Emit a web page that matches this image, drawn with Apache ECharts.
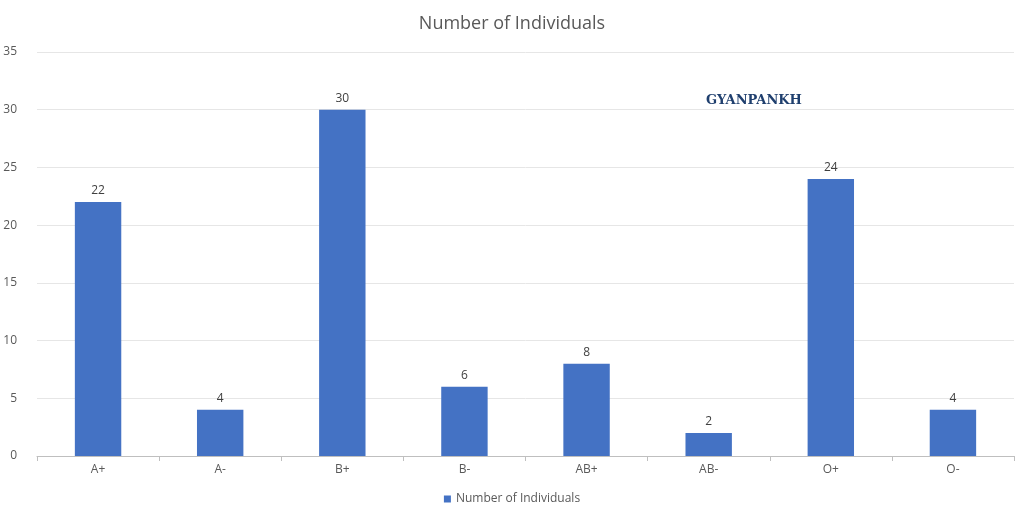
<!DOCTYPE html>
<html><head><meta charset="utf-8">
<script src="https://cdn.jsdelivr.net/npm/echarts@6/dist/echarts.min.js"></script>
<style>html,body{margin:0;padding:0;background:#fff}#c{width:1024px;height:520px}</style>
</head><body><div id="c"></div>
<script>
const categories = ['A+','A-','B+','B-','AB+','AB-','O+','O-'];
const values = [22,4,30,6,8,2,24,4];
const seriesName = 'Number of Individuals';
const chart = echarts.init(document.getElementById('c'));
chart.setOption({
  animation:false,
  title:{text:seriesName,left:'center',top:10,textStyle:{fontFamily:'Open Sans',fontSize:18,fontWeight:'normal',color:'#595959'}},
  grid:{left:37,right:10,top:52,bottom:64},
  legend:{bottom:10,itemWidth:7,itemHeight:7,icon:'rect',textStyle:{fontFamily:'Open Sans',fontSize:12,color:'#595959'}},
  xAxis:{type:'category',data:categories,axisTick:{show:true,alignWithLabel:false,length:5,lineStyle:{color:'#bfbfbf'}},
    axisLine:{lineStyle:{color:'#bfbfbf'}},axisLabel:{color:'#595959',fontFamily:'Open Sans',fontSize:12}},
  yAxis:{type:'value',min:0,max:35,interval:5,axisLine:{show:false},axisTick:{show:false},
    splitLine:{lineStyle:{color:'#e6e6e6'}},axisLabel:{color:'#595959',fontFamily:'Open Sans',fontSize:12,margin:20}},
  series:[{name:seriesName,type:'bar',data:values,barWidth:'38%',itemStyle:{color:'#4472c4'},
    label:{show:true,position:'top',color:'#404040',fontFamily:'Open Sans',fontSize:12}}],
  graphic:[{type:'text',left:706,top:94,style:{text:'GYANPANKH',font:'bold 13px "DejaVu Serif"',fill:'#1f3f6e'}}]
});
</script></body></html>
